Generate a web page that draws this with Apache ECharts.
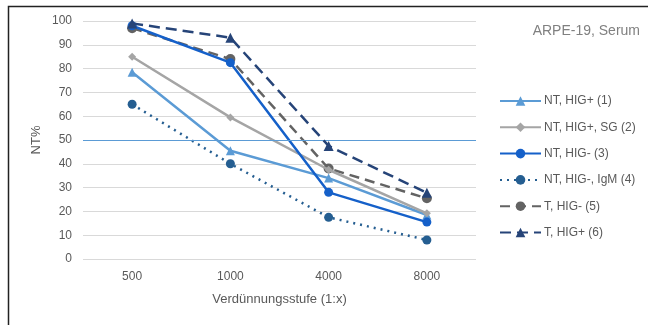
<!DOCTYPE html>
<html><head><meta charset="utf-8">
<script src="https://cdn.jsdelivr.net/npm/echarts@6/dist/echarts.min.js"></script>
<style>html,body{margin:0;padding:0;background:#fff}#c{width:648px;height:325px}</style>
</head><body><div id="c"></div>
<script>
const categories = ['500', '1000', '4000', '8000'];
const s1 = [78.5, 45.5, 34, 18.5];   // NT, HIG+ (1)
const s2 = [85, 59.5, 37.5, 19.2];   // NT, HIG+, SG (2)
const s3 = [98, 82.5, 28, 15.5];     // NT, HIG- (3)
const s4 = [65, 40, 17.5, 8];        // NT, HIG-, IgM (4)
const s5 = [97, 84, 38, 25.5];       // T, HIG- (5)
const s6 = [99, 93, 47.5, 27.8];     // T, HIG+ (6)
const names = ['NT, HIG+ (1)', 'NT, HIG+, SG (2)', 'NT, HIG- (3)', 'NT, HIG-, IgM (4)', 'T, HIG- (5)', 'T, HIG+ (6)'];
const refLine = 50;

const font = 'Liberation Sans';
function mk(name, data, color, type, symbol, size, z) {
  return {
    name, type: 'line', data, symbol, symbolSize: size, z,
    lineStyle: { color, width: 2.5, type },
    itemStyle: { color },
    emphasis: { disabled: true }
  };
}
const series = [
  mk(names[0], s1, '#5b9bd5', 'solid', 'triangle', 9, 3),
  mk(names[1], s2, '#a5a5a5', 'solid', 'diamond', 8, 3),
  mk(names[2], s3, '#1560c9', 'solid', 'circle', 9, 4),
  mk(names[3], s4, '#255e91', [2, 5], 'circle', 9, 3),
  mk(names[4], s5, '#636363', [10, 6], 'circle', 10, 2),
  mk(names[5], s6, '#264478', [11, 6], 'triangle', 10, 5)
];
series[0].markLine = {
  silent: true, symbol: 'none', label: { show: false },
  lineStyle: { color: '#5b9bd5', width: 1.2, type: 'solid' },
  data: [{ yAxis: refLine }]
};

const chart = echarts.init(document.getElementById('c'), null, { renderer: 'canvas' });
chart.setOption({
  animation: false,
  backgroundColor: '#fff',
  graphic: [{ type: 'rect', left: 6, top: 4, shape: { x: 0, y: 0, width: 700, height: 400 }, style: { fill: 'none', stroke: '#222', lineWidth: 1.5 }, silent: true }],
  title: { text: 'ARPE-19, Serum', right: 3, top: 19, textStyle: { fontFamily: font, fontSize: 14, fontWeight: 'normal', color: '#808080' } },
  legend: {
    orient: 'vertical', left: 494, top: 90, itemWidth: 41, itemHeight: 12, itemGap: 14.3,
    textStyle: { fontFamily: font, fontSize: 12, color: '#595959', padding: [0, 0, 0, -2] }, data: names
  },
  grid: { left: 83, right: 172, top: 21, bottom: 66 },
  xAxis: {
    type: 'category', data: categories,
    name: 'Verdünnungsstufe (1:x)', nameLocation: 'middle', nameGap: 34,
    nameTextStyle: { fontFamily: font, fontSize: 13, color: '#595959' },
    axisLine: { show: false }, axisTick: { show: false },
    axisLabel: { fontFamily: font, fontSize: 12, color: '#595959', margin: 12 }
  },
  yAxis: {
    type: 'value', min: 0, max: 100, interval: 10,
    name: 'NT%', nameLocation: 'middle', nameGap: 40, nameRotate: 90, nameMoveOverlap: false,
    nameTextStyle: { fontFamily: font, fontSize: 13, color: '#595959' },
    axisLine: { show: false }, axisTick: { show: false },
    axisLabel: { fontFamily: font, fontSize: 12, color: '#595959', margin: 11 },
    splitLine: { lineStyle: { color: '#d9d9d9', width: 1 } }
  },
  series
});
</script></body></html>
